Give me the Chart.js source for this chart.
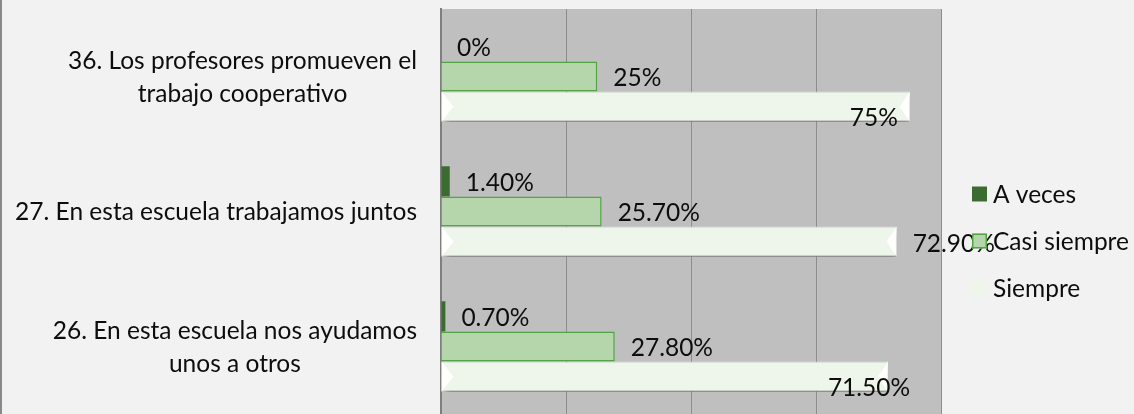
<!DOCTYPE html>
<html>
<head>
<meta charset="utf-8">
<script src="https://cdn.jsdelivr.net/npm/chart.js@4.4.1/dist/chart.umd.min.js"></script>
<style>
  html, body { margin: 0; padding: 0; background: #f2f2f2; }
  #wrap { width: 1134px; height: 414px; position: relative; }
</style>
</head>
<body>
<div id="wrap"><canvas id="chart"></canvas></div>
<script>
// --- values ---
const categories = [
  ["36. Los profesores promueven el", "trabajo cooperativo"],
  ["27. En esta escuela trabajamos juntos"],
  ["26. En esta escuela nos ayudamos", "unos a otros"],
];
const seriesNames = ["A veces", "Casi siempre", "Siempre"];
const aVeces = [0, 1.4, 0.7];
const casiSiempre = [25, 25.7, 27.8];
const siempre = [75, 72.9, 71.5];
const xTicks = [0, 20, 40, 60, 80];

const FONT = "Lato";
const FONT_SIZE = 24.5;
const TEXT = "#0d0d0d";

// "0%" for whole numbers, "25.70%" otherwise (like the Excel labels)
function fmtPct(v) {
  return Number.isInteger(v) ? v + "%" : v.toFixed(2) + "%";
}

// background, left frame line, grey plot area
const framePlugin = {
  id: "frame",
  beforeDraw(chart) {
    const { ctx, chartArea: a, width, height } = chart;
    ctx.save();
    ctx.fillStyle = "#f2f2f2";
    ctx.fillRect(0, 0, width, height);
    ctx.strokeStyle = "#8a8a8a";
    ctx.lineWidth = 2;
    ctx.beginPath();
    ctx.moveTo(1, 0);
    ctx.lineTo(1, height);
    ctx.stroke();
    ctx.fillStyle = "#bfbfbf";
    ctx.fillRect(a.left, a.top, a.right - a.left, a.bottom - a.top);
    ctx.restore();
  },
};

// drop shadow + bevel ends on the "Siempre" bars
const bevelPlugin = {
  id: "bevel",
  beforeDatasetDraw(chart, args) {
    if (args.index !== 2) return;
    const ctx = chart.ctx;
    ctx.save();
    ctx.shadowColor = "rgba(0,0,0,0.6)";
    ctx.shadowBlur = 7;
    ctx.shadowOffsetX = 2;
    ctx.shadowOffsetY = 4;
  },
  afterDatasetDraw(chart, args) {
    if (args.index !== 2) return;
    const ctx = chart.ctx;
    ctx.restore();
    ctx.save();
    ctx.fillStyle = "rgba(255,255,255,0.95)";
    args.meta.data.forEach((el) => {
      const { x, y, base, height } = el.getProps(["x", "y", "base", "height"], true);
      const top = y - height / 2;
      const bot = y + height / 2;
      ctx.beginPath();
      ctx.moveTo(base, top);
      ctx.lineTo(base + 12, y);
      ctx.lineTo(base, bot);
      ctx.closePath();
      ctx.fill();
      ctx.beginPath();
      ctx.moveTo(x, top);
      ctx.lineTo(x - 10, y);
      ctx.lineTo(x, bot);
      ctx.closePath();
      ctx.fill();
    });
    ctx.restore();
  },
};

// value labels next to the bars (two were dragged onto the bar in the original)
const movedLabels = { "2-0": true, "2-2": true };
const valueLabelPlugin = {
  id: "valueLabels",
  afterDatasetsDraw(chart) {
    const ctx = chart.ctx;
    ctx.save();
    ctx.font = FONT_SIZE + "px " + FONT;
    ctx.fillStyle = TEXT;
    ctx.textBaseline = "middle";
    ctx.textAlign = "left";
    chart.data.datasets.forEach((ds, i) => {
      chart.getDatasetMeta(i).data.forEach((el, j) => {
        const txt = fmtPct(ds.data[j]);
        if (movedLabels[i + "-" + j]) {
          ctx.fillText(txt, el.x - 60, el.y + 11);
        } else {
          ctx.fillText(txt, el.x + 16, el.y + 2);
        }
      });
    });
    ctx.restore();
  },
};

// category labels: block right-aligned, lines centred inside the block
const catLabelPlugin = {
  id: "catLabels",
  afterDraw(chart) {
    const { ctx, chartArea: a } = chart;
    const yScale = chart.scales.y;
    const lineH = 33;
    ctx.save();
    ctx.font = FONT_SIZE + "px " + FONT;
    ctx.fillStyle = TEXT;
    ctx.textBaseline = "middle";
    ctx.textAlign = "center";
    categories.forEach((lines, i) => {
      const blockW = Math.max(...lines.map((l) => ctx.measureText(l).width));
      const cx = a.left - 24 - blockW / 2;
      const cy = yScale.getPixelForTick(i);
      lines.forEach((l, k) => {
        ctx.fillText(l, cx, cy + (k - (lines.length - 1) / 2) * lineH + 1);
      });
    });
    ctx.restore();
  },
};

// legend on the right
const legendPlugin = {
  id: "rightLegend",
  afterDraw(chart) {
    const ctx = chart.ctx;
    const x0 = 972;
    const rowY = [194, 241, 288];
    ctx.save();
    ctx.font = FONT_SIZE + "px " + FONT;
    ctx.textBaseline = "middle";
    ctx.textAlign = "left";
    chart.data.datasets.forEach((ds, i) => {
      const y = rowY[i];
      ctx.fillStyle = ds.backgroundColor;
      ctx.fillRect(x0, y - 7.5, 15, 15);
      if (i === 1) {
        ctx.strokeStyle = ds.borderColor;
        ctx.lineWidth = 1.5;
        ctx.strokeRect(x0 + 0.75, y - 6.75, 13.5, 13.5);
      }
      ctx.fillStyle = TEXT;
      ctx.fillText(ds.label, x0 + 21, y + 1);
    });
    ctx.restore();
  },
};

const ctx = document.getElementById("chart").getContext("2d");
new Chart(ctx, {
  type: "bar",
  data: {
    labels: categories,
    datasets: [
      {
        label: seriesNames[0],
        data: aVeces,
        backgroundColor: "#3b6b30",
        borderWidth: 0,
      },
      {
        label: seriesNames[1],
        data: casiSiempre,
        backgroundColor: "#b5d6ab",
        borderColor: "#52a343",
        borderWidth: 1.5,
      },
      {
        label: seriesNames[2],
        data: siempre,
        backgroundColor: "#eef5ea",
        borderColor: "#f8fbf6",
        borderWidth: 1,
      },
    ],
  },
  options: {
    indexAxis: "y",
    responsive: true,
    maintainAspectRatio: false,
    animation: false,
    categoryPercentage: 0.67,
    barPercentage: 1.0,
    layout: { padding: { top: 9, right: 193, bottom: 0, left: 0 } },
    scales: {
      x: {
        min: xTicks[0],
        max: xTicks[xTicks.length - 1],
        ticks: { display: false, stepSize: xTicks[1] - xTicks[0] },
        grid: { color: "#8d8d8d", lineWidth: 1, drawTicks: false },
        border: { display: false },
        afterFit(scale) {
          scale.height = 0;
        },
      },
      y: {
        ticks: { display: false },
        grid: { display: false, drawTicks: false },
        border: { display: true, color: "#7f7f7f", width: 2 },
        afterFit(scale) {
          scale.width = 441;
        },
      },
    },
    plugins: {
      legend: { display: false },
      tooltip: { enabled: false },
    },
  },
  plugins: [framePlugin, bevelPlugin, valueLabelPlugin, catLabelPlugin, legendPlugin],
});
</script>
</body>
</html>
